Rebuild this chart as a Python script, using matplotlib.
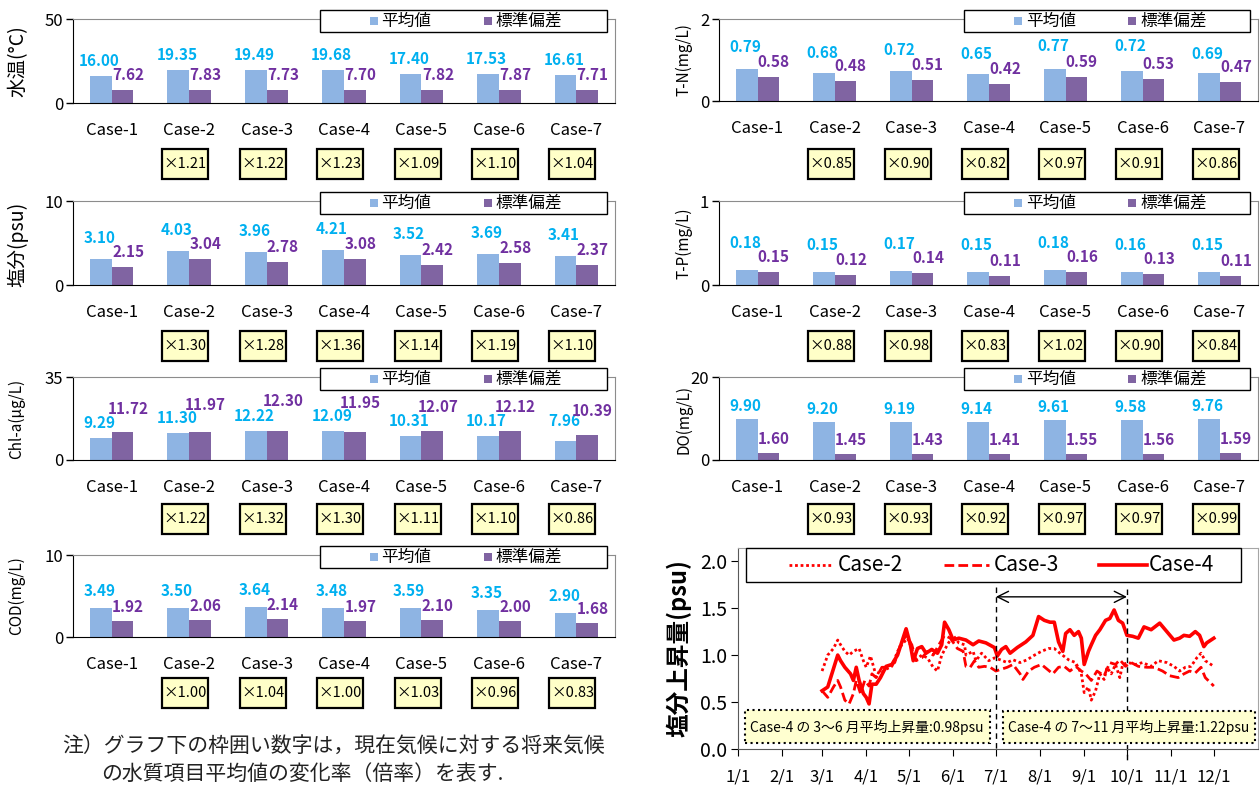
import numpy as np
import matplotlib.pyplot as plt
import matplotlib.transforms as mtransforms
from matplotlib.patches import Rectangle
from matplotlib.lines import Line2D

plt.rcParams['font.family'] = ['Noto Sans CJK JP', 'DejaVu Sans']

W, H = 1260, 787
C_MEAN = '#8EB4E3'
C_STD = '#8064A2'
C_MEAN_TXT = '#00B0F0'
C_STD_TXT = '#7030A0'
C_BOX = '#FFFFC8'

cases = ['Case-1', 'Case-2', 'Case-3', 'Case-4', 'Case-5', 'Case-6', 'Case-7']

# water temperature
wt_mean = [16.00, 19.35, 19.49, 19.68, 17.40, 17.53, 16.61]
wt_std = [7.62, 7.83, 7.73, 7.70, 7.82, 7.87, 7.71]
wt_ratio = [1.21, 1.22, 1.23, 1.09, 1.10, 1.04]
# salinity
sal_mean = [3.10, 4.03, 3.96, 4.21, 3.52, 3.69, 3.41]
sal_std = [2.15, 3.04, 2.78, 3.08, 2.42, 2.58, 2.37]
sal_ratio = [1.30, 1.28, 1.36, 1.14, 1.19, 1.10]
# chlorophyll-a
chl_mean = [9.29, 11.30, 12.22, 12.09, 10.31, 10.17, 7.96]
chl_std = [11.72, 11.97, 12.30, 11.95, 12.07, 12.12, 10.39]
chl_ratio = [1.22, 1.32, 1.30, 1.11, 1.10, 0.86]
# COD
cod_mean = [3.49, 3.50, 3.64, 3.48, 3.59, 3.35, 2.90]
cod_std = [1.92, 2.06, 2.14, 1.97, 2.10, 2.00, 1.68]
cod_ratio = [1.00, 1.04, 1.00, 1.03, 0.96, 0.83]
# total nitrogen
tn_mean = [0.79, 0.68, 0.72, 0.65, 0.77, 0.72, 0.69]
tn_std = [0.58, 0.48, 0.51, 0.42, 0.59, 0.53, 0.47]
tn_ratio = [0.85, 0.90, 0.82, 0.97, 0.91, 0.86]
# total phosphorus
tp_mean = [0.18, 0.15, 0.17, 0.15, 0.18, 0.16, 0.15]
tp_std = [0.15, 0.12, 0.14, 0.11, 0.16, 0.13, 0.11]
tp_ratio = [0.88, 0.98, 0.83, 1.02, 0.90, 0.84]
# dissolved oxygen
do_mean = [9.90, 9.20, 9.19, 9.14, 9.61, 9.58, 9.76]
do_std = [1.60, 1.45, 1.43, 1.41, 1.55, 1.56, 1.59]
do_ratio = [0.93, 0.93, 0.92, 0.97, 0.97, 0.99]

# salinity rise time series (day of year, psu)
c2_day = [59, 63, 67, 70, 72, 75, 78, 81, 85, 88, 90, 93, 96, 100, 104, 108, 112, 115, 119,
          122, 125, 129, 133, 137, 140, 143, 147, 151, 155, 159, 160, 165, 167, 171, 176, 180,
          184, 189, 193, 198, 203, 207, 213, 218, 222, 226, 232, 237, 241, 243, 246, 248, 251,
          254, 257, 259, 262, 265, 268, 270, 274, 279, 284, 290, 295, 301, 306, 310, 314, 318,
          322, 325, 328, 334]
c2_val = [0.83, 1.00, 1.07, 1.16, 1.11, 1.04, 1.00, 1.04, 1.07, 0.94, 0.87, 0.99, 0.83, 0.80,
          0.85, 0.88, 1.04, 1.11, 1.18, 1.07, 0.95, 1.00, 0.97, 0.87, 0.83, 1.00, 1.11, 1.21,
          1.13, 1.11, 1.00, 1.04, 0.94, 1.02, 0.94, 0.97, 0.95, 0.92, 0.95, 0.92, 0.95, 0.99,
          1.04, 1.07, 1.07, 1.02, 0.95, 0.92, 0.80, 0.60, 0.66, 0.52, 0.62, 0.80, 0.74, 0.87,
          0.80, 0.90, 0.76, 0.90, 0.92, 0.90, 0.92, 0.88, 0.94, 0.92, 0.88, 0.83, 0.87, 0.88,
          0.97, 1.02, 0.94, 0.88]
c3_day = [59, 63, 67, 70, 72, 75, 78, 81, 83, 86, 89, 92, 94, 97, 101, 105, 110, 114, 118,
          122, 125, 129, 133, 137, 141, 145, 149, 154, 158, 160, 163, 166, 169, 173, 177, 181,
          185, 189, 193, 198, 200, 204, 208, 213, 217, 221, 225, 229, 233, 237, 241, 244, 248,
          252, 257, 261, 265, 268, 272, 276, 281, 287, 292, 298, 303, 309, 313, 317, 321, 325,
          328, 334]
c3_val = [0.62, 0.55, 0.66, 0.73, 0.66, 0.52, 0.48, 0.59, 0.73, 0.59, 0.73, 0.67, 0.80, 0.76,
          0.87, 0.87, 0.92, 1.11, 1.21, 1.11, 0.94, 0.97, 1.04, 1.00, 1.11, 1.21, 1.18, 1.07,
          1.04, 0.88, 0.87, 0.94, 0.87, 0.88, 0.87, 0.83, 0.85, 0.87, 0.90, 0.80, 0.74, 0.83,
          0.87, 0.90, 0.85, 0.80, 0.87, 0.88, 0.83, 0.88, 0.83, 0.80, 0.73, 0.83, 0.78, 0.92,
          0.90, 0.95, 0.88, 0.92, 0.88, 0.87, 0.87, 0.83, 0.78, 0.76, 0.80, 0.83, 0.81, 0.87,
          0.76, 0.67]
c4_day = [59, 63, 70, 72, 75, 79, 81, 83, 85, 88, 90, 92, 94, 97, 100, 104, 108, 112, 115,
          118, 121, 123, 126, 129, 132, 136, 140, 143, 145, 148, 151, 155, 160, 165, 169, 174,
          180, 182, 185, 188, 191, 196, 202, 207, 211, 215, 219, 222, 225, 228, 230, 233, 236,
          239, 241, 243, 246, 248, 251, 254, 258, 261, 264, 267, 270, 273, 277, 281, 285, 290,
          296, 301, 306, 310, 313, 317, 321, 324, 327, 329, 334]
c4_val = [0.62, 0.66, 1.00, 0.94, 0.87, 0.80, 0.73, 0.87, 0.73, 0.59, 0.55, 0.48, 0.69, 0.69,
          0.76, 0.88, 0.90, 1.00, 1.14, 1.28, 1.11, 0.94, 1.07, 1.09, 1.02, 1.06, 1.02, 1.11,
          1.35, 1.27, 1.16, 1.18, 1.16, 1.11, 1.15, 1.13, 1.08, 0.99, 1.06, 1.09, 1.02, 1.08,
          1.14, 1.21, 1.41, 1.37, 1.35, 1.35, 1.14, 1.04, 1.23, 1.27, 1.21, 1.25, 1.18, 0.90,
          1.04, 1.11, 1.21, 1.27, 1.37, 1.39, 1.48, 1.37, 1.34, 1.21, 1.20, 1.18, 1.30, 1.27,
          1.34, 1.25, 1.16, 1.18, 1.21, 1.20, 1.25, 1.21, 1.09, 1.13, 1.18]

month_start = [0, 31, 59, 90, 120, 151, 181, 212, 243, 273, 304, 334]
month_lbl = [f'{m}/1' for m in range(1, 13)]

fig = plt.figure(figsize=(W / 100, H / 100), dpi=100)


def px_axes(x0, y0, x1, y1):
    return fig.add_axes([x0 / W, 1 - y1 / H, (x1 - x0) / W, (y1 - y0) / H])


def fig_rect(x0, y0, x1, y1, **kw):
    r = Rectangle((x0 / W, 1 - y1 / H), (x1 - x0) / W, (y1 - y0) / H,
                  transform=fig.transFigure, **kw)
    fig.patches.append(r)
    return r


def bar_panel(x0, x1, top, bottom, ymax, mean, std, ratio, off_mean, off_std, box_y):
    ax = px_axes(x0, top, x1, bottom)
    idx = np.arange(len(cases))
    w = 0.28
    ax.bar(idx - w / 2, mean, w, color=C_MEAN, zorder=2)
    ax.bar(idx + w / 2, std, w, color=C_STD, zorder=2)
    ax.set_xlim(-0.5, len(cases) - 0.5)
    ax.set_ylim(0, ymax)
    ax.set_yticks([0, ymax])
    ax.set_xticks(idx, cases)
    ax.tick_params(axis='x', length=0, pad=14, labelsize=12)
    ax.tick_params(axis='y', length=5, width=1, direction='out', labelsize=12, pad=2)
    for s in ('left', 'bottom'):
        ax.spines[s].set_color('black')
    for s in ('top', 'right'):
        ax.spines[s].set_color('#8c8c8c')

    om = off_mean if isinstance(off_mean, list) else [off_mean] * len(cases)
    os_ = off_std if isinstance(off_std, list) else [off_std] * len(cases)
    for i in idx:
        ax.annotate(f'{mean[i]:.2f}', (i - w / 2, mean[i]), xytext=(-1, om[i] * 0.72),
                    textcoords='offset points', ha='center', va='center',
                    color=C_MEAN_TXT, fontweight='bold', fontsize=11, zorder=5)
        ax.annotate(f'{std[i]:.2f}', (i + w / 2, std[i]), xytext=(4, os_[i] * 0.72),
                    textcoords='offset points', ha='center', va='center',
                    color=C_STD_TXT, fontweight='bold', fontsize=11, zorder=5)

    # ratio boxes under Case-2..7
    blend = mtransforms.blended_transform_factory(ax.transData, fig.transFigure)
    bw = 46 / ((x1 - x0) / len(cases))
    for i, r in enumerate(ratio, start=1):
        ax.add_patch(Rectangle((i - 0.05 - bw / 2, 1 - (box_y + 15) / H), bw, 30 / H,
                               transform=blend, clip_on=False, fc=C_BOX, ec='black', lw=1.6))
        ax.text(i - 0.05, 1 - box_y / H, f'×{r:.2f}', transform=blend, ha='center',
                va='center', fontsize=10.5)

    # legend box
    lx0 = x0 + 0.455 * (x1 - x0)
    lx1 = x0 + 0.986 * (x1 - x0)
    fig_rect(lx0, top - 9, lx1, top + 13, fc='white', ec='black', lw=1.0)
    cy = top + 2
    fig_rect(lx0 + 50, cy - 4, lx0 + 58, cy + 4, fc=C_MEAN, ec='none')
    fig.text((lx0 + 62) / W, 1 - cy / H, '平均値', ha='left', va='center', fontsize=12)
    fig_rect(lx0 + 164, cy - 4, lx0 + 172, cy + 4, fc=C_STD, ec='none')
    fig.text((lx0 + 176) / W, 1 - cy / H, '標準偏差', ha='left', va='center', fontsize=12)
    return ax


LX0, LX1 = 73, 615
RX0, RX1 = 719, 1258

bar_panel(LX0, LX1, 19, 103, 50, wt_mean, wt_std, wt_ratio, 15, 15, 164)
bar_panel(LX0, LX1, 201, 285, 10, sal_mean, sal_std, sal_ratio, 21, 15, 346)
bar_panel(LX0, LX1, 377, 460, 35, chl_mean, chl_std, chl_ratio,
          [15, 15, 15, 15, 15, 15, 20], [23, 27, 30, 29, 24, 24, 24], 519)
bar_panel(LX0, LX1, 555, 637, 10, cod_mean, cod_std, cod_ratio, 17, 14, 693)
bar_panel(RX0, RX1, 19, 101, 2, tn_mean, tn_std, tn_ratio,
          [22, 20, 21, 20, 23, 25, 19], 15, 164)
bar_panel(RX0, RX1, 201, 285, 1, tp_mean, tp_std, tp_ratio, 27, 15, 346)
bar_panel(RX0, RX1, 377, 460, 20, do_mean, do_std, do_ratio, 13, 14, 519)

# y-axis titles
fig.text(18 / W, 1 - 61 / H, '水温(°C)', rotation=90, ha='center', va='center', fontsize=14)
fig.text(18 / W, 1 - 244 / H, '塩分(psu)', rotation=90, ha='center', va='center', fontsize=14)
fig.text(17 / W, 1 - 419 / H, 'Chl-a(μg/L)', rotation=90, ha='center', va='center', fontsize=11)
fig.text(17 / W, 1 - 596 / H, 'COD(mg/L)', rotation=90, ha='center', va='center', fontsize=11)
fig.text(684 / W, 1 - 60 / H, 'T-N(mg/L)', rotation=90, ha='center', va='center', fontsize=11)
fig.text(684 / W, 1 - 243 / H, 'T-P(mg/L)', rotation=90, ha='center', va='center', fontsize=11)
fig.text(684 / W, 1 - 419 / H, 'DO(mg/L)', rotation=90, ha='center', va='center', fontsize=11)

# note
fig.text(62 / W, 1 - 746 / H, '注）グラフ下の枠囲い数字は，現在気候に対する将来気候',
         ha='left', va='center', fontsize=15, color='#222222')
fig.text(101 / W, 1 - 774 / H, 'の水質項目平均値の変化率（倍率）を表す.',
         ha='left', va='center', fontsize=15, color='#222222')

# salinity rise line chart
ax = px_axes(738, 548, 1258, 749)
ax.plot(c2_day, c2_val, color='red', lw=2.0, ls=(0, (1, 1)))
ax.plot(c3_day, c3_val, color='red', lw=2.0, ls=(0, (3.5, 1.5)))
ax.plot(c4_day, c4_val, color='red', lw=2.6)
ax.set_xlim(0, 365)
ax.set_ylim(0, 2.14)
ax.set_yticks([0, 0.5, 1.0, 1.5, 2.0], ['0.0', '0.5', '1.0', '1.5', '2.0'])
ax.set_xticks(month_start, month_lbl)
ax.tick_params(axis='y', length=5, direction='out', labelsize=14, pad=3, colors='black')
ax.tick_params(axis='x', length=5, direction='out', labelsize=12, pad=9)
for s in ('left', 'bottom'):
    ax.spines[s].set_color('#595959')
for s in ('top', 'right'):
    ax.spines[s].set_color('#a6a6a6')
ax.set_ylabel('塩分上昇量(psu)', fontsize=17, fontweight='bold', labelpad=6)

ax.plot([181, 181], [1.72, -0.03], color='black', lw=1, ls=(0, (4, 3)), clip_on=False)
ax.plot([273, 273], [1.70, -0.15], color='black', lw=1, ls=(0, (4, 3)), clip_on=False)
ax.annotate('', xy=(181, 1.62), xytext=(273, 1.62),
            arrowprops=dict(arrowstyle='<->', color='black', lw=1, mutation_scale=20,
                            shrinkA=0, shrinkB=0))

fig_rect(745, 710, 990, 743, fc='#FFFFD0', ec='black', lw=1.5, ls=':')
fig.text(867 / W, 1 - 727 / H, 'Case-4 の 3～6 月平均上昇量:0.98psu', ha='center',
         va='center', fontsize=10)
fig_rect(1003, 711, 1255, 743, fc='#FFFFD0', ec='black', lw=1.5, ls=':')
fig.text(1129 / W, 1 - 727 / H, 'Case-4 の 7～11 月平均上昇量:1.22psu', ha='center',
         va='center', fontsize=10)

# line legend
fig_rect(746, 548, 1241, 582, fc='white', ec='black', lw=1.0)
ly = 1 - 565 / H
for (sx0, sx1, tx, ls_, lw_, lab) in [(789, 831, 838, (0, (1, 1)), 2.0, 'Case-2'),
                                       (944, 989, 994, (0, (3.5, 1.5)), 2.0, 'Case-3'),
                                       (1099, 1147, 1149, '-', 2.6, 'Case-4')]:
    fig.add_artist(Line2D([sx0 / W, sx1 / W], [ly, ly], transform=fig.transFigure,
                          color='red', ls=ls_, lw=lw_))
    fig.text(tx / W, ly, lab, ha='left', va='center', fontsize=15)

fig.savefig('out.png', dpi=100)
